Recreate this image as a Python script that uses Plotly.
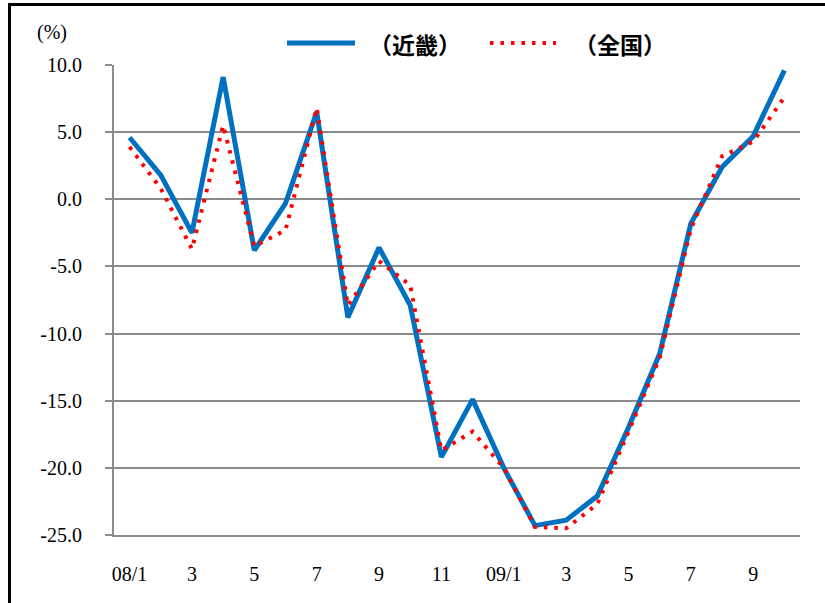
import plotly.graph_objects as go

# Monthly series, Jan 2008 - Oct 2009 (year-on-year change, %)
months = ["08/1", "08/2", "08/3", "08/4", "08/5", "08/6", "08/7", "08/8", "08/9", "08/10",
          "08/11", "08/12", "09/1", "09/2", "09/3", "09/4", "09/5", "09/6", "09/7", "09/8",
          "09/9", "09/10"]
kinki = [4.6, 1.8, -2.5, 9.1, -3.8, -0.3, 6.5, -8.8, -3.6, -7.9,
         -19.2, -14.9, -20.0, -24.3, -23.9, -22.1, -17.0, -11.5, -1.8, 2.4,
         4.7, 9.6]
zenkoku = [3.9, 0.8, -3.7, 5.5, -3.5, -2.3, 6.8, -7.9, -4.6, -6.4,
           -18.7, -17.3, -20.0, -24.4, -24.5, -22.7, -17.3, -11.8, -2.2, 3.2,
           4.3, 7.6]
tick_months = ["08/1", "08/3", "08/5", "08/7", "08/9", "08/11", "09/1", "09/3", "09/5", "09/7", "09/9"]
tick_text = ["08/1", "3", "5", "7", "9", "11", "09/1", "3", "5", "7", "9"]
y_ticks = [10, 5, 0, -5, -10, -15, -20, -25]
y_tick_text = ["10.0", "5.0", "0.0", "-5.0", "-10.0", "-15.0", "-20.0", "-25.0"]
series_names = ["（近畿）", "（全国）"]

BLUE = "#0070C0"
RED = "#FF0000"
GRID = "#8C8C8C"
SERIF = "Liberation Serif"
CJK = "Noto Sans CJK JP"
DOTS = "3.5px,7px"

# plot area in pixels
L, R, T, B = 114, 25, 65, 68
W = 825 - L - R
H = 603 - T - B


def px(x):
    return (x - L) / W


def py(y):
    return (603 - B - y) / H


fig = go.Figure()
fig.add_trace(go.Scatter(x=months, y=kinki, mode="lines", name=series_names[0],
                         line=dict(color=BLUE, width=5), showlegend=False))
fig.add_trace(go.Scatter(x=months, y=zenkoku, mode="lines", name=series_names[1],
                         line=dict(color=RED, width=4, dash=DOTS), showlegend=False))

shapes = [
    # outer frame
    dict(type="rect", xref="paper", yref="paper", x0=px(9.5), x1=px(835), y0=py(615), y1=py(4.5),
         line=dict(color="black", width=3), fillcolor="rgba(0,0,0,0)", layer="below"),
    # legend samples
    dict(type="line", xref="paper", yref="paper", x0=px(287), x1=px(355), y0=py(43), y1=py(43),
         line=dict(color=BLUE, width=5)),
    dict(type="line", xref="paper", yref="paper", x0=px(490), x1=px(556), y0=py(43), y1=py(43),
         line=dict(color=RED, width=4, dash=DOTS)),
]

annotations = [
    dict(text="(%)", xref="paper", yref="paper", x=px(52), y=py(32), showarrow=False,
         xanchor="center", yanchor="middle", font=dict(family=SERIF, size=20, color="black")),
    dict(text="<b>" + series_names[0] + "</b>", xref="paper", yref="paper", x=px(415), y=py(44),
         showarrow=False, xanchor="center", yanchor="middle",
         font=dict(family=CJK, size=23, color="black")),
    dict(text="<b>" + series_names[1] + "</b>", xref="paper", yref="paper", x=px(620), y=py(44),
         showarrow=False, xanchor="center", yanchor="middle",
         font=dict(family=CJK, size=23, color="black")),
]

fig.update_layout(
    width=825, height=603,
    margin=dict(l=L, r=R, t=T, b=B),
    paper_bgcolor="white", plot_bgcolor="white",
    shapes=shapes, annotations=annotations,
    showlegend=False,
)
fig.update_xaxes(
    type="category", categoryorder="array", categoryarray=months,
    range=[-0.5, len(months) - 0.5],
    tickmode="array", tickvals=tick_months, ticktext=tick_text,
    showgrid=False, showline=True, linecolor=GRID, linewidth=2,
    ticks="", ticklabelstandoff=20,
    tickfont=dict(family=SERIF, size=20, color="black"),
)
fig.update_yaxes(
    range=[-25, 10], tickmode="array", tickvals=y_ticks, ticktext=y_tick_text,
    showgrid=True, gridcolor=GRID, gridwidth=2,
    zeroline=False,
    showline=True, linecolor=GRID, linewidth=2,
    ticks="outside", ticklen=7, tickcolor=GRID, tickwidth=2,
    ticklabelstandoff=19,
    tickfont=dict(family=SERIF, size=20, color="black"),
)

fig.write_html("out.html")
